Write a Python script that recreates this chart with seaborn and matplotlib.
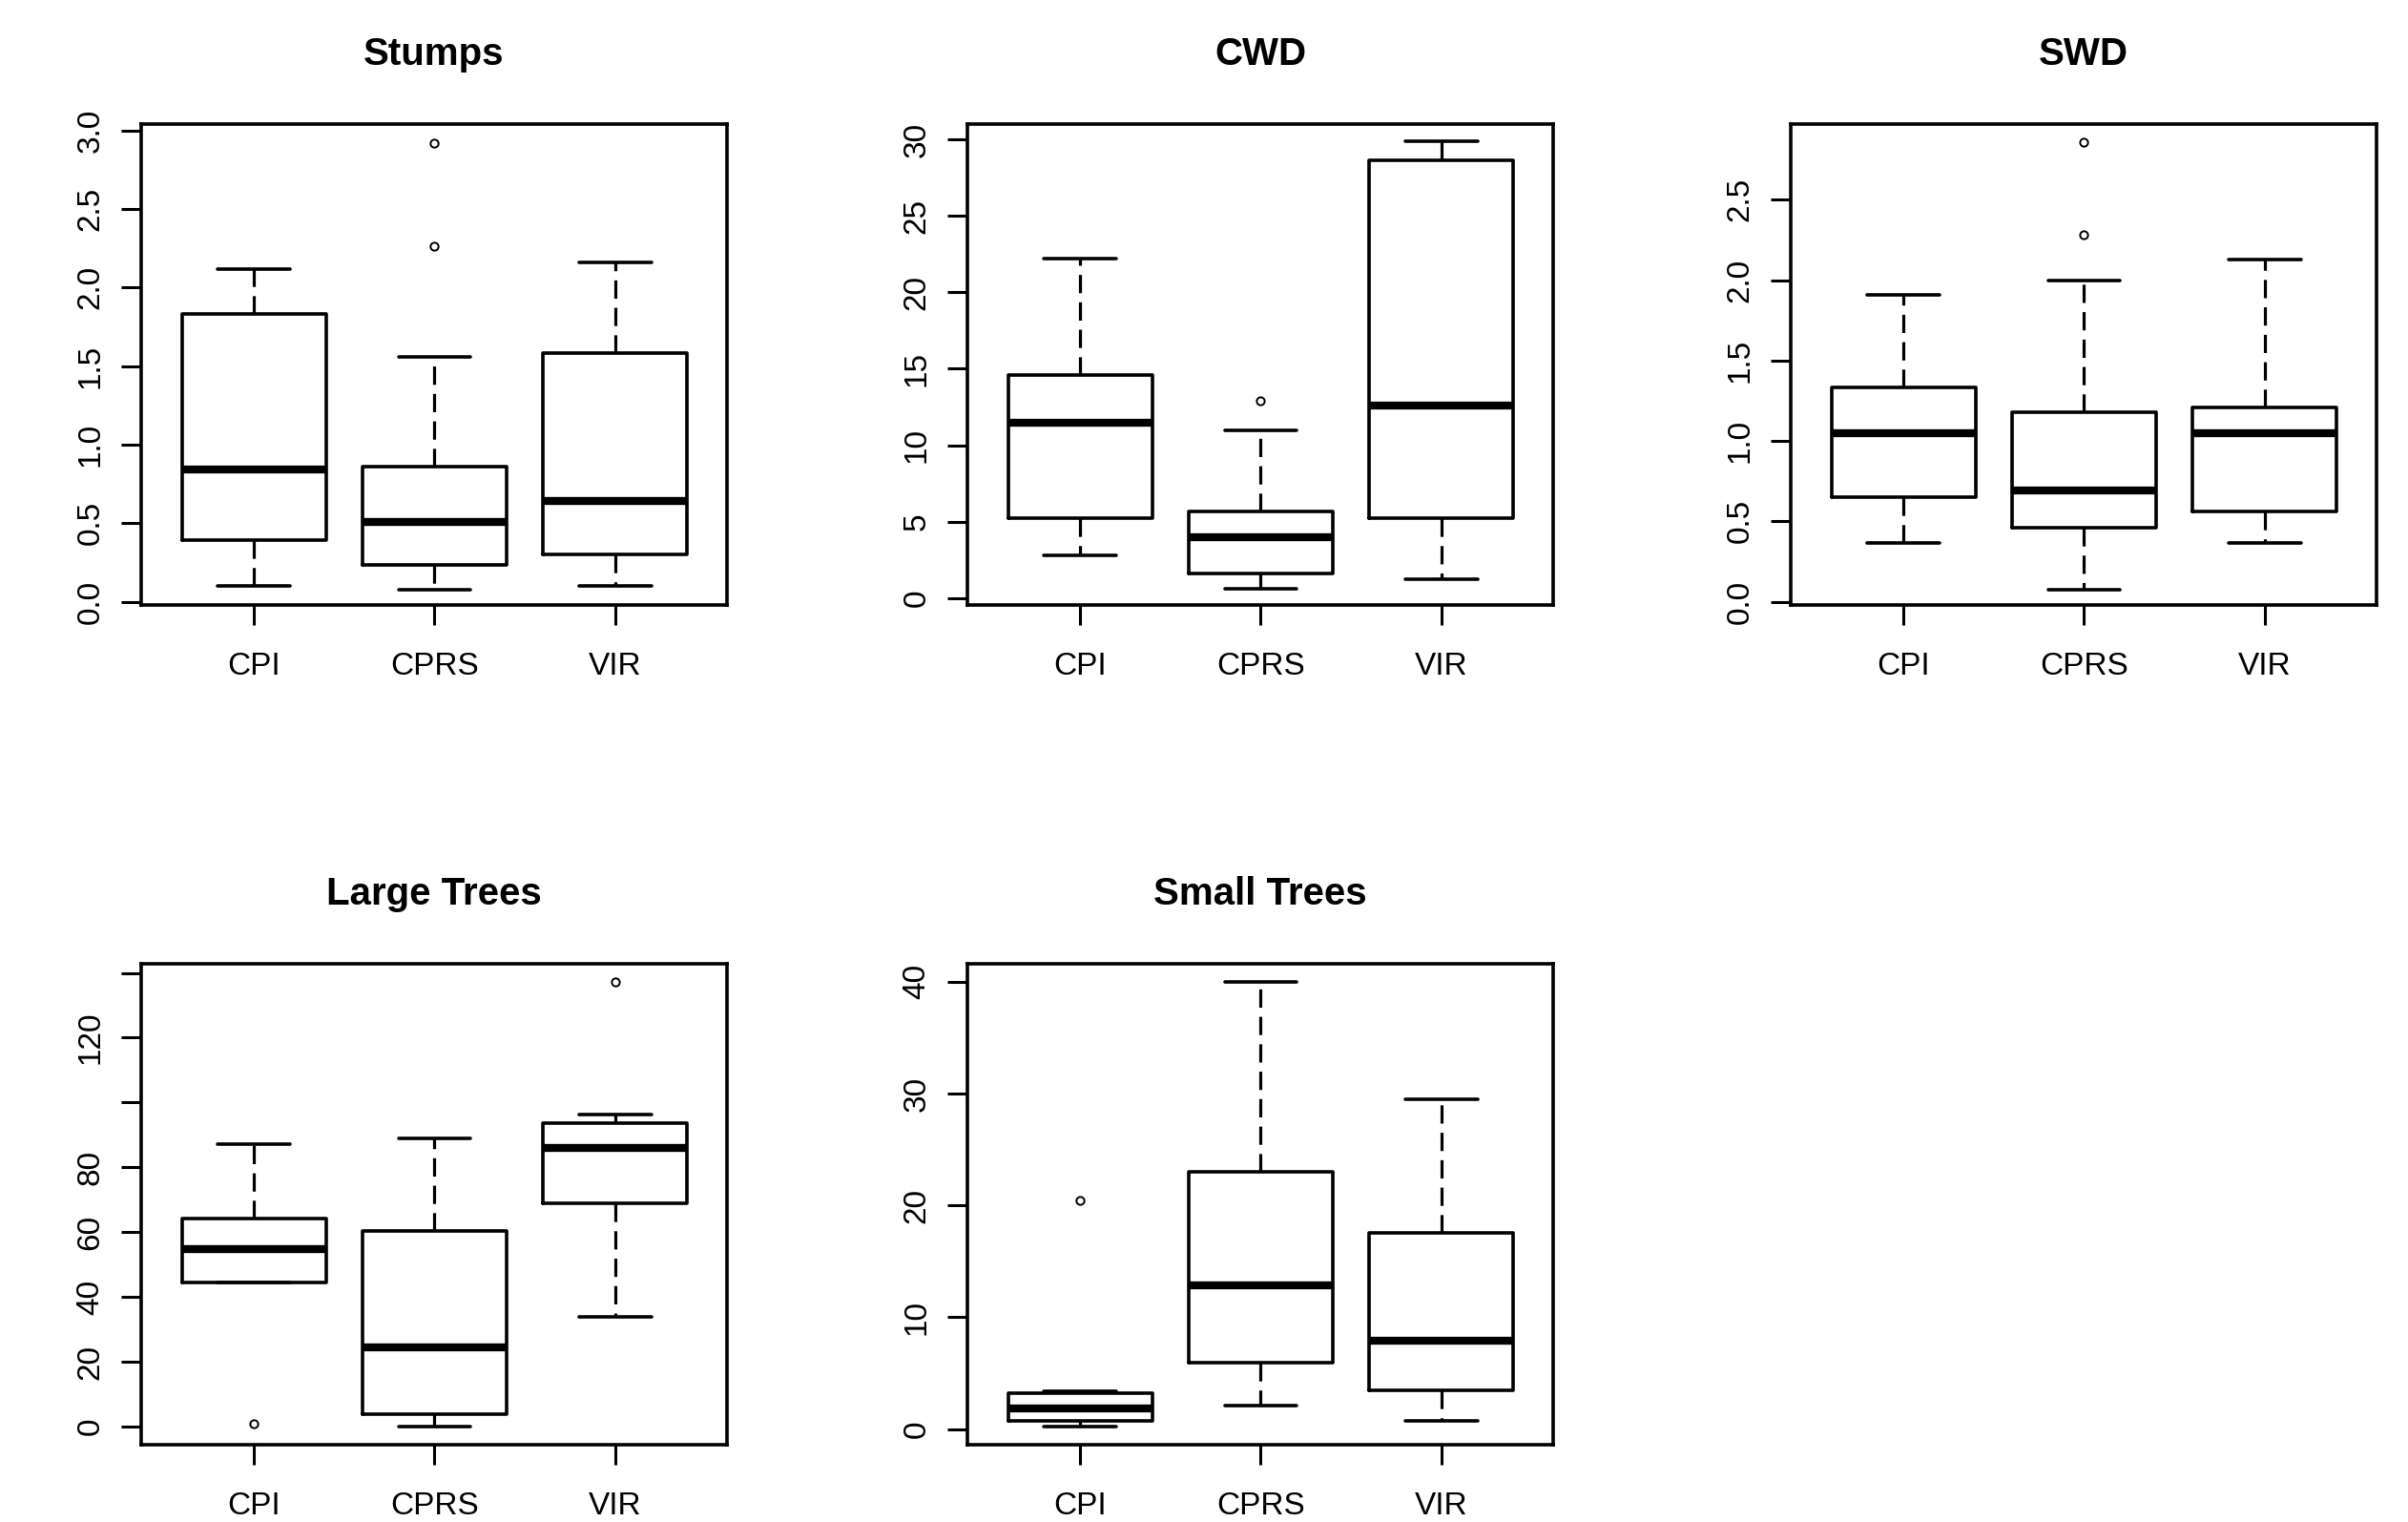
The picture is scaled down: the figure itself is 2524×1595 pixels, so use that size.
import matplotlib
matplotlib.use('Agg')
import matplotlib.pyplot as plt
import numpy as np
import seaborn as sb

groups = ['CPI', 'CPRS', 'VIR']

# box summaries: [low whisker, q1, median, q3, high whisker]
stumps = [[0.10, 0.39, 0.84, 1.83, 2.12],
          [0.075, 0.235, 0.51, 0.86, 1.56],
          [0.10, 0.30, 0.64, 1.58, 2.16]]
stumps_out = [[], [2.26, 2.92], []]

cwd = [[2.8, 5.2, 11.45, 14.6, 22.2],
       [0.6, 1.6, 4.0, 5.65, 11.0],
       [1.24, 5.2, 12.6, 28.6, 29.85]]
cwd_out = [[], [12.9], []]

swd = [[0.363, 0.65, 1.05, 1.334, 1.91],
       [0.077, 0.46, 0.69, 1.18, 2.00],
       [0.363, 0.56, 1.05, 1.21, 2.13]]
swd_out = [[], [2.28, 2.86], []]

large = [[44.5, 44.5, 54.9, 64.2, 87.1],
         [0.0, 3.7, 24.5, 60.4, 88.8],
         [33.9, 69.0, 86.0, 93.6, 96.3]]
large_out = [[1.0], [], [137.2]]

small = [[0.24, 0.72, 1.85, 3.2, 3.4],
         [2.12, 5.93, 12.87, 22.97, 40.0],
         [0.72, 3.5, 7.94, 17.5, 29.5]]
small_out = [[20.4], [], []]

panels = [
    ('Stumps', stumps, stumps_out, (-0.02, 3.04), np.arange(0, 3.01, 0.5),
     ['0.0', '0.5', '1.0', '1.5', '2.0', '2.5', '3.0']),
    ('CWD', cwd, cwd_out, (-0.45, 31.0), np.arange(0, 31, 5),
     ['0', '5', '10', '15', '20', '25', '30']),
    ('SWD', swd, swd_out, (-0.02, 2.97), np.arange(0, 2.51, 0.5),
     ['0.0', '0.5', '1.0', '1.5', '2.0', '2.5']),
    ('Large Trees', large, large_out, (-5.6, 142.8), np.arange(0, 141, 20),
     ['0', '20', '40', '60', '80', '', '120', '']),
    ('Small Trees', small, small_out, (-1.4, 41.6), np.arange(0, 41, 10),
     ['0', '10', '20', '30', '40']),
]

sb.set_theme(style='white')
plt.rcParams['font.family'] = ['Liberation Sans', 'DejaVu Sans']

W, H = 2524, 1595
fig = plt.figure(figsize=(W / 100, H / 100), dpi=100, facecolor='white')

# frame positions of the 2x3 grid, in pixels
lefts = [148, 1014, 1877]
tops = [130, 1010]
width, height = 614, 504

for i, (title, summ, outs, ylim, yt, ylab) in enumerate(panels):
    row, col = divmod(i, 3)
    rect = [lefts[col] / W, 1 - (tops[row] + height) / H,
            width / W, height / H]
    ax = fig.add_axes(rect)
    ax.set_facecolor('white')

    stats = []
    for s, o in zip(summ, outs):
        stats.append(dict(whislo=s[0], q1=s[1], med=s[2], q3=s[3],
                          whishi=s[4], fliers=o))
    ax.bxp(stats, positions=[1, 2, 3], widths=0.8, capwidths=0.4,
           showfliers=True,
           boxprops=dict(color='black', lw=2.6),
           medianprops=dict(color='black', lw=6, solid_capstyle='butt'),
           whiskerprops=dict(color='black', lw=2.3, linestyle=(0, (6, 3))),
           capprops=dict(color='black', lw=2.6),
           flierprops=dict(marker='o', markersize=6, markerfacecolor='white',
                           markeredgecolor='black', markeredgewidth=1.4))

    ax.set_xlim(0.375, 3.62)
    ax.set_ylim(*ylim)
    ax.set_xticks([1, 2, 3])
    ax.set_xticklabels(groups)
    ax.set_yticks(yt)
    ax.set_yticklabels(ylab)
    ax.tick_params(axis='both', direction='out', length=15, width=2.2,
                   colors='black', labelsize=24, left=True, bottom=True)
    ax.tick_params(axis='x', pad=20)
    ax.tick_params(axis='y', pad=12, labelrotation=90)
    for lab in ax.get_yticklabels():
        lab.set_verticalalignment('center')
    for sp in ax.spines.values():
        sp.set_visible(True)
        sp.set_color('black')
        sp.set_linewidth(2.6)
    ax.set_title(title, fontsize=29, fontweight='bold', color='black', pad=45)

fig.savefig('out.png', dpi=100, facecolor='white')
